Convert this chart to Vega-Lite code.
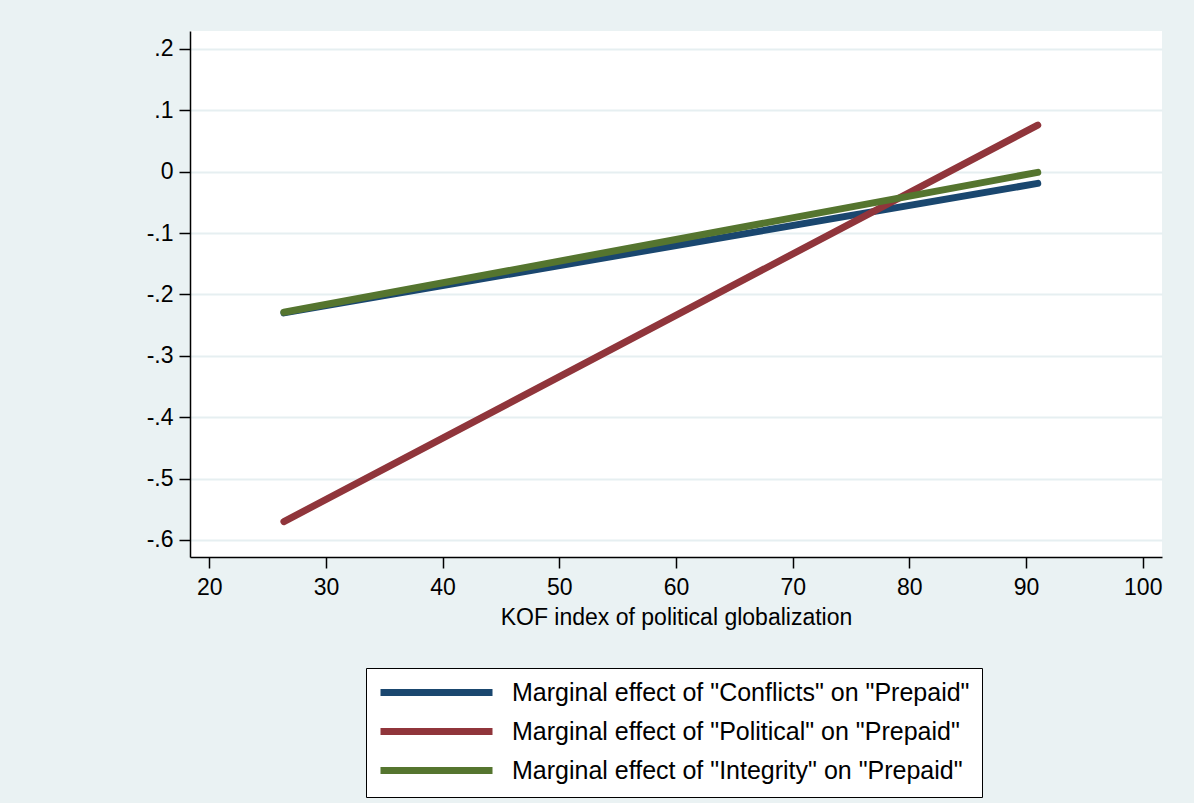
{
  "$schema": "https://vega.github.io/schema/vega-lite/v6.json",
  "width": 972,
  "height": 526,
  "autosize": {"type": "none"},
  "padding": {"left": 190, "top": 31, "right": 32, "bottom": 246},
  "background": "#EAF2F3",
  "config": {
    "view": {"fill": "white", "stroke": null},
    "font": "Liberation Sans"
  },
  "data": {
    "values": [
      {"series": "Marginal effect of \"Conflicts\" on \"Prepaid\"", "x": 26.4, "y": -0.230},
      {"series": "Marginal effect of \"Conflicts\" on \"Prepaid\"", "x": 91.0, "y": -0.019},
      {"series": "Marginal effect of \"Political\" on \"Prepaid\"", "x": 26.4, "y": -0.570},
      {"series": "Marginal effect of \"Political\" on \"Prepaid\"", "x": 91.0, "y": 0.076},
      {"series": "Marginal effect of \"Integrity\" on \"Prepaid\"", "x": 26.4, "y": -0.229},
      {"series": "Marginal effect of \"Integrity\" on \"Prepaid\"", "x": 91.0, "y": -0.001}
    ]
  },
  "mark": {"type": "line", "strokeWidth": 7, "strokeCap": "round"},
  "encoding": {
    "x": {
      "field": "x",
      "type": "quantitative",
      "scale": {"domain": [18.35, 101.65], "nice": false, "zero": false},
      "axis": {
        "values": [20, 30, 40, 50, 60, 70, 80, 90, 100],
        "title": "KOF index of political globalization",
        "grid": false,
        "domainColor": "black",
        "domainWidth": 1.5,
        "tickColor": "black",
        "tickWidth": 1.5,
        "tickSize": 11,
        "labelFontSize": 23,
        "labelColor": "black",
        "labelPadding": 8,
        "titleFontSize": 23,
        "titleFontWeight": "normal",
        "titleColor": "black",
        "titlePadding": 7
      }
    },
    "y": {
      "field": "y",
      "type": "quantitative",
      "scale": {"domain": [-0.6277, 0.2293], "nice": false, "zero": false},
      "axis": {
        "values": [-0.6, -0.5, -0.4, -0.3, -0.2, -0.1, 0, 0.1, 0.2],
        "labelExpr": "abs(datum.value) < 0.0001 ? '0' : (datum.value < 0 ? '-' : '') + replace(format(abs(datum.value), '.1f'), '0.', '.')",
        "title": null,
        "grid": true,
        "gridColor": "#E6EFF1",
        "gridWidth": 2,
        "domainColor": "black",
        "domainWidth": 1.5,
        "tickColor": "black",
        "tickWidth": 1.5,
        "tickSize": 11,
        "labelFontSize": 23,
        "labelColor": "black",
        "labelPadding": 6
      }
    },
    "color": {
      "field": "series",
      "type": "nominal",
      "sort": null,
      "scale": {
        "domain": [
          "Marginal effect of \"Conflicts\" on \"Prepaid\"",
          "Marginal effect of \"Political\" on \"Prepaid\"",
          "Marginal effect of \"Integrity\" on \"Prepaid\""
        ],
        "range": ["#1A476F", "#90353B", "#55752F"]
      },
      "legend": {
        "orient": "none",
        "legendX": 176,
        "legendY": 637,
        "title": null,
        "direction": "vertical",
        "fillColor": "white",
        "strokeColor": "black",
        "padding": 12,
        "symbolType": "M-2,0 L20.4,0",
        "symbolSize": 100,
        "symbolStrokeWidth": 7,
        "labelFontSize": 25,
        "labelColor": "black",
        "labelOffset": 109,
        "labelLimit": 700,
        "rowPadding": 10
      }
    }
  }
}
